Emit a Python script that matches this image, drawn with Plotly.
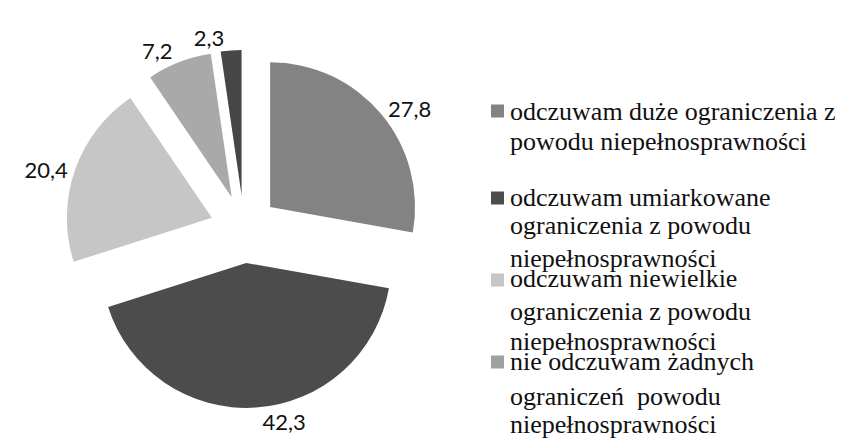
import plotly.graph_objects as go

# Data
categories = [
    "odczuwam duże ograniczenia z powodu niepełnosprawności",
    "odczuwam umiarkowane ograniczenia z powodu niepełnosprawności",
    "odczuwam niewielkie ograniczenia z powodu niepełnosprawności",
    "nie odczuwam żadnych ograniczeń powodu niepełnosprawności",
    "inne",
]
values = [27.8, 42.3, 20.4, 7.2, 2.3]
value_labels = ["27,8", "42,3", "20,4", "7,2", "2,3"]
slice_colors = ["#838383", "#4c4c4c", "#c6c6c6", "#a9a9a9", "#464646"]

legend_lines = [
    ["odczuwam duże ograniczenia z", "powodu niepełnosprawności"],
    ["odczuwam umiarkowane", "ograniczenia z powodu", "niepełnosprawności"],
    ["odczuwam niewielkie", "ograniczenia z powodu", "niepełnosprawności"],
    ["nie odczuwam żadnych", "ograniczeń  powodu", "niepełnosprawności"],
]
legend_line_y = [[111, 141], [197, 226, 258], [278, 311, 341], [361, 396, 424]]
legend_swatch_y = [111, 198, 280, 362]
legend_colors = ["#838383", "#4c4c4c", "#c6c6c6", "#a0a0a0"]

# the page body has an 8px margin; work in screen pixels and convert
OFF = 8
W, H = 846 - OFF, 445 - OFF
SERIF = "Liberation Serif, Times New Roman, DejaVu Serif, serif"
SANS = "Lato, Carlito, Open Sans, sans-serif"


def px(x):
    return (x - OFF) / W


def py(y):
    return 1 - (y - OFF) / H


domain = dict(x=[px(64), px(424)], y=[py(408), py(50)])
pulls = [0.235] * len(values)

fig = go.Figure()
# main pie with all labels except the smallest slice
main_text = [t if i < len(values) - 1 else "" for i, t in enumerate(value_labels)]
fig.add_trace(go.Pie(
    labels=categories, values=values, text=main_text,
    texttemplate="%{text}", textposition="outside",
    textfont=dict(family=SANS, size=22, color="#111111"),
    sort=False, direction="clockwise", rotation=0, pull=pulls,
    automargin=False,
    marker=dict(colors=slice_colors, line=dict(width=0)),
    domain=domain, showlegend=False, hoverinfo="label+value",
))
# identical transparent overlay carrying only the smallest slice's label
small_text = ["" if i < len(values) - 1 else t for i, t in enumerate(value_labels)]
fig.add_trace(go.Pie(
    labels=categories, values=values, text=small_text,
    texttemplate="%{text}", textposition="outside",
    textfont=dict(family=SANS, size=22, color="#111111"),
    sort=False, direction="clockwise", rotation=0, pull=pulls,
    automargin=False,
    marker=dict(colors=["rgba(0,0,0,0)"] * len(values), line=dict(width=0)),
    domain=domain, showlegend=False, hoverinfo="skip",
))

annotations = []
shapes = []
for lines, ys, sy, col in zip(legend_lines, legend_line_y, legend_swatch_y, legend_colors):
    for line, y in zip(lines, ys):
        annotations.append(dict(
            x=px(508), y=py(y), xref="paper", yref="paper",
            xanchor="left", yanchor="middle", showarrow=False,
            text=line,
            font=dict(family=SERIF, size=26, color="#111111"),
        ))
    shapes.append(dict(
        type="rect", xref="paper", yref="paper",
        x0=px(491), x1=px(504), y0=py(sy + 6.5), y1=py(sy - 6.5),
        fillcolor=col, line=dict(width=0),
    ))

fig.update_layout(
    width=W, height=H,
    margin=dict(l=0, r=0, t=0, b=0, autoexpand=False),
    paper_bgcolor="white",
    plot_bgcolor="white",
    annotations=annotations,
    shapes=shapes,
)

fig.write_html("out.html")
